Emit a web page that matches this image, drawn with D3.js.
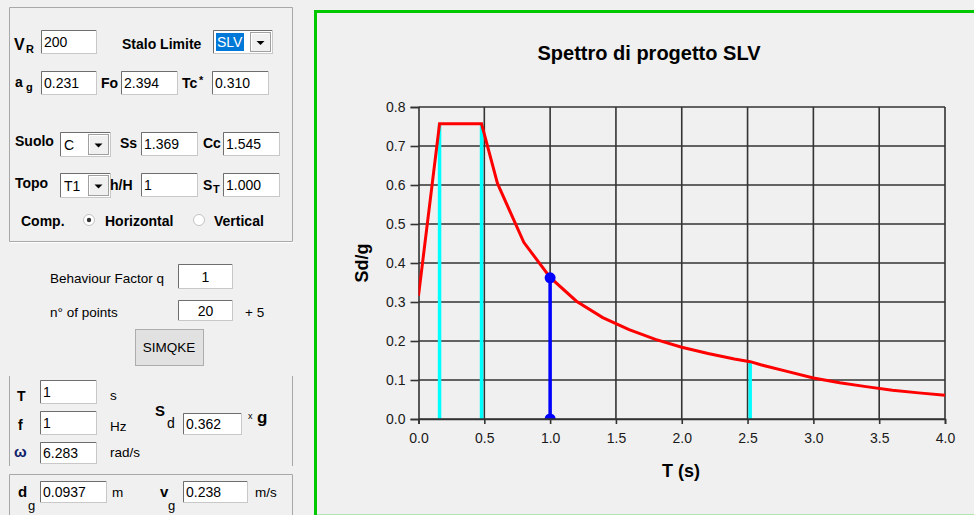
<!DOCTYPE html>
<html>
<head>
<meta charset="utf-8">
<script src="https://cdn.jsdelivr.net/npm/d3@7"></script>
<style>
  body { margin: 0; background: #f0f0f0; }
  svg { display: block; font-family: "Liberation Sans", Arial, sans-serif; }
</style>
</head>
<body>
<script>
// spectrum points (T in s, Sd/g)
var periods = [0, 0.16, 0.479, 0.6, 0.8, 1.0, 1.2, 1.4, 1.6, 1.8, 2.0, 2.2, 2.4, 2.52, 2.6, 2.8, 3.0, 3.2, 3.4, 3.6, 3.8, 4.0];
var sdValues = [0.316, 0.757, 0.757, 0.604, 0.453, 0.363, 0.302, 0.26, 0.229, 0.204, 0.184, 0.168, 0.154, 0.147, 0.139, 0.122, 0.105, 0.093, 0.083, 0.074, 0.067, 0.061];
// corner periods Tb, Tc, Td (cyan markers)
var cornerT = [0.16, 0.479, 2.52];
var cornerSd = [0.757, 0.757, 0.147];
// selected period
var selT = 1.0;
var selSd = 0.362;
var xTicks = [0, 0.5, 1, 1.5, 2, 2.5, 3, 3.5, 4];
var yTicks = [0, 0.1, 0.2, 0.3, 0.4, 0.5, 0.6, 0.7, 0.8];

var W = 974, H = 515;
var svg = d3.select("body").append("svg").attr("width", W).attr("height", H);
svg.append("rect").attr("width", W).attr("height", H).attr("fill", "#f0f0f0");

// ---------- left form panel ----------
var panel = svg.append("g");

function label(x, y, txt, size, bold, color) {
    return panel.append("text")
        .attr("x", x).attr("y", y)
        .attr("font-size", size || 14)
        .attr("font-weight", bold ? "bold" : "normal")
        .attr("fill", color || "#000")
        .text(txt);
}

function sunken(x, y, w, h) {
    panel.append("rect").attr("x", x + 0.5).attr("y", y + 0.5)
        .attr("width", w - 1).attr("height", h - 1)
        .attr("fill", "#fff").attr("stroke", "#c8c8c8");
    panel.append("path")
        .attr("d", "M" + (x + 0.5) + "," + (y + h - 1) + "V" + (y + 0.5) + "H" + (x + w - 1))
        .attr("fill", "none").attr("stroke", "#6e6e6e");
}

function textBox(x, y, w, h, val, centered) {
    sunken(x, y, w, h);
    label(centered ? x + w / 2 : x + 3, y + h / 2 + 5, val, 14)
        .attr("text-anchor", centered ? "middle" : "start");
}

function dropdown(x, y, w, h, val, selected) {
    sunken(x, y, w, h);
    if (selected) {
        panel.append("rect").attr("x", x + 3).attr("y", y + 3)
            .attr("width", 28).attr("height", h - 6).attr("fill", "#0078d7");
    }
    label(x + 4, y + h / 2 + 5, val, 14, false, selected ? "#fff" : "#000");
    var bx = x + w - 23, by = y + 2, bw = 21, bh = h - 4;
    panel.append("rect").attr("x", bx + 0.5).attr("y", by + 0.5)
        .attr("width", bw - 1).attr("height", bh - 1)
        .attr("fill", "#f0f0f0").attr("stroke", "#a0a0a0");
    panel.append("path")
        .attr("d", "M" + (bx + 1.5) + "," + (by + bh - 2) + "V" + (by + 1.5) + "H" + (bx + bw - 2))
        .attr("fill", "none").attr("stroke", "#fff");
    var cx = bx + bw / 2, cy = by + bh / 2 + 1;
    panel.append("path")
        .attr("d", "M" + (cx - 4) + "," + (cy - 2) + "L" + (cx + 4) + "," + (cy - 2) + "L" + cx + "," + (cy + 2) + "Z")
        .attr("fill", "#000");
}

function groupLine(d) {
    panel.append("path").attr("d", d).attr("fill", "none").attr("stroke", "#a8a8a8");
}

// group frames
groupLine("M9.5,7.5H292.5V241.5H9.5Z");
panel.append("path").attr("d", "M10.5,242.5H293.5").attr("stroke", "#fff");
groupLine("M9.5,376V466M292.5,376V466");
groupLine("M9.5,520V474.5H292.5V520");

// row 1
label(14, 50, "V", 16, true); label(26, 53, "R", 11, true);
textBox(41, 30, 56, 24, "200");
label(122, 49, "Stalo Limite", 14, true);
dropdown(213, 30, 60, 24, "SLV", true);

// row 2
label(15, 87, "a", 14, true); label(26, 91, "g", 11, true);
textBox(41, 71, 56, 24, "0.231");
label(101, 88, "Fo", 14, true);
textBox(121, 71, 57, 24, "2.394");
label(182, 88, "Tc", 14, true); label(199, 84, "*", 11, true);
textBox(212, 71, 57, 24, "0.310");

// row 3
label(15, 146, "Suolo", 14, true);
dropdown(60, 132, 51, 25, "C", false);
label(120, 148, "Ss", 14, true);
textBox(141, 132, 57, 24, "1.369");
label(203, 148, "Cc", 14, true);
textBox(223, 132, 57, 24, "1.545");

// row 4
label(15, 188, "Topo", 14, true);
dropdown(60, 173, 51, 25, "T1", false);
label(110, 190, "h/H", 14, true);
textBox(141, 173, 57, 24, "1");
label(203, 190, "S", 14, true); label(213, 193, "T", 11, true);
textBox(223, 173, 57, 24, "1.000");

// row 5 radios
label(21, 226, "Comp.", 14, true);
panel.append("circle").attr("cx", 89).attr("cy", 220).attr("r", 5.5)
    .attr("fill", "#fff").attr("stroke", "#c4c4c4");
panel.append("circle").attr("cx", 89).attr("cy", 220).attr("r", 2.2).attr("fill", "#333");
label(105, 226, "Horizontal", 14, true);
panel.append("circle").attr("cx", 199).attr("cy", 220).attr("r", 5.5)
    .attr("fill", "#fff").attr("stroke", "#c4c4c4");
label(214, 226, "Vertical", 14, true);

// q and points
label(50, 283, "Behaviour Factor q", 13.5);
textBox(178, 264, 55, 25, "1", true);
label(50, 317, "n° of points", 13.5);
textBox(178, 300, 55, 21, "20", true);
label(245, 317, "+ 5", 13.5);

// button
panel.append("rect").attr("x", 135.5).attr("y", 329.5).attr("width", 68).attr("height", 36)
    .attr("fill", "#e1e1e1").attr("stroke", "#adadad");
label(169, 352, "SIMQKE", 13.5).attr("text-anchor", "middle");

// T / f / omega
label(17, 401, "T", 14, true);
textBox(40, 380, 57, 24, "1");
label(110, 400, "s", 13.5);
label(18, 430, "f", 14, true);
textBox(40, 411, 57, 24, "1");
label(110, 431, "Hz", 13.5);
label(14, 457, "ω", 15, true, "#10206a");
textBox(40, 442, 57, 22, "6.283");
label(110, 457, "rad/s", 13.5);
label(155, 416, "S", 15, true); label(167, 428, "d", 14);
textBox(183, 413, 59, 22, "0.362");
label(248, 419, "x", 9);
label(257, 423, "g", 17, true);

// dg / vg
label(18, 497, "d", 15, true); label(28, 510, "g", 13);
textBox(40, 481, 67, 22, "0.0937");
label(112, 497, "m", 13.5);
label(160, 497, "v", 15, true); label(168, 510, "g", 13);
textBox(183, 481, 65, 22, "0.238");
label(255, 497, "m/s", 13.5);

// ---------- chart panel ----------
svg.append("path").attr("d", "M315.5,516V11.5H980")
    .attr("fill", "none").attr("stroke", "#00c800").attr("stroke-width", 3);
svg.append("path").attr("d", "M317,514.5H980").attr("stroke", "#b4e6b4");

var x = d3.scaleLinear().domain([0, 4]).range([418.5, 945]);
var y = d3.scaleLinear().domain([0, 0.8]).range([419, 107]);

var chart = svg.append("g");

chart.append("text")
    .attr("x", 649).attr("y", 60)
    .attr("text-anchor", "middle")
    .attr("font-size", 20).attr("font-weight", "bold")
    .text("Spettro di progetto SLV");

// grid
chart.append("g")
    .selectAll("line").data(yTicks.slice(1)).join("line")
    .attr("x1", x(0)).attr("x2", x(4))
    .attr("y1", function (d) { return y(d); }).attr("y2", function (d) { return y(d); })
    .attr("stroke", "#333").attr("stroke-width", 1.6);
chart.append("g")
    .selectAll("line").data(xTicks.slice(1)).join("line")
    .attr("x1", function (d) { return x(d); }).attr("x2", function (d) { return x(d); })
    .attr("y1", y(0)).attr("y2", y(0.8))
    .attr("stroke", "#333").attr("stroke-width", 1.6);

// axes
var yAxis = chart.append("g")
    .attr("transform", "translate(" + x(0) + ",0)")
    .call(d3.axisLeft(y).tickValues(yTicks).tickSize(8).tickPadding(5).tickFormat(d3.format(".1f")));
var xAxis = chart.append("g")
    .attr("transform", "translate(0," + y(0) + ")")
    .call(d3.axisBottom(x).tickValues(xTicks).tickSize(5).tickPadding(9).tickFormat(d3.format(".1f")));
[yAxis, xAxis].forEach(function (a) {
    a.select(".domain").attr("stroke", "#333").attr("stroke-width", 1.6);
    a.selectAll(".tick line").attr("stroke", "#333").attr("stroke-width", 1.6);
    a.selectAll(".tick text").attr("font-size", 14).attr("fill", "#1a1a1a")
        .attr("font-family", "Liberation Sans, Arial, sans-serif");
});

chart.append("text")
    .attr("x", 681).attr("y", 477)
    .attr("text-anchor", "middle")
    .attr("font-size", 18).attr("font-weight", "bold")
    .text("T (s)");
chart.append("text")
    .attr("transform", "translate(368,263) rotate(-90)")
    .attr("text-anchor", "middle")
    .attr("font-size", 18).attr("font-weight", "bold")
    .text("Sd/g");

// plot clip
chart.append("clipPath").attr("id", "plotclip")
    .append("rect").attr("x", x(0)).attr("y", y(0.8) - 10)
    .attr("width", x(4) - x(0) + 10).attr("height", y(0) - y(0.8) + 10);
var plot = chart.append("g").attr("clip-path", "url(#plotclip)");

// corner period markers
plot.selectAll("line.corner").data(cornerT).join("line")
    .attr("class", "corner")
    .attr("x1", function (d) { return x(d); }).attr("x2", function (d) { return x(d); })
    .attr("y1", y(0))
    .attr("y2", function (d, i) { return y(cornerSd[i]); })
    .attr("stroke", "#00ffff").attr("stroke-width", 3.5);

// spectrum
var pts = periods.map(function (t, i) { return [t, sdValues[i]]; });
plot.append("path")
    .datum(pts)
    .attr("d", d3.line().x(function (d) { return x(d[0]); }).y(function (d) { return y(d[1]); }))
    .attr("fill", "none").attr("stroke", "#ff0000").attr("stroke-width", 3)
    .attr("stroke-linejoin", "miter");

// selected period
plot.append("line")
    .attr("x1", x(selT)).attr("x2", x(selT))
    .attr("y1", y(0)).attr("y2", y(selSd))
    .attr("stroke", "#0000ff").attr("stroke-width", 3.5);
plot.selectAll("circle.sel").data([0, selSd]).join("circle")
    .attr("class", "sel")
    .attr("cx", x(selT)).attr("cy", function (d) { return y(d); })
    .attr("r", 5.5).attr("fill", "#0000ff");
// re-draw x axis line over the bottom marker
chart.append("line").attr("x1", x(0)).attr("x2", x(4)).attr("y1", y(0)).attr("y2", y(0))
    .attr("stroke", "#333").attr("stroke-width", 1.6);
</script>
</body>
</html>
